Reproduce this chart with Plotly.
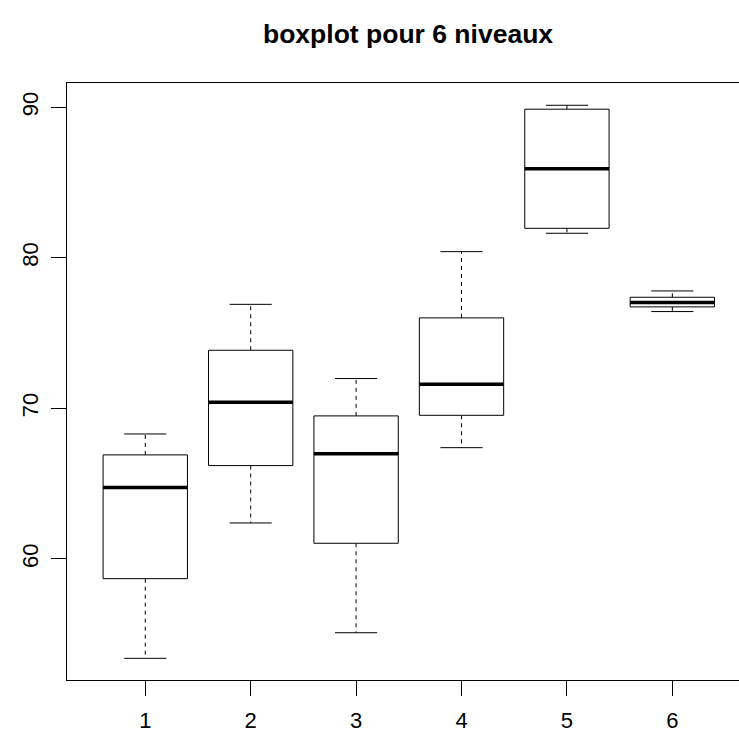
import plotly.graph_objects as go

# Five-number summaries for each level
levels = [1, 2, 3, 4, 5, 6]
lower_whisker = [53.40, 62.39, 55.10, 67.39, 81.63, 76.43]
q1 = [58.69, 66.20, 61.04, 69.54, 81.96, 76.74]
median = [64.74, 70.40, 66.99, 71.60, 85.91, 77.03]
q3 = [66.91, 73.86, 69.50, 76.01, 89.87, 77.38]
upper_whisker = [68.30, 76.91, 71.98, 80.41, 90.13, 77.80]

y_ticks = [60, 70, 80, 90]
title_text = "boxplot pour 6 niveaux"

BOX_HALF = 0.4      # boxwex 0.8
STAPLE_HALF = 0.2   # staple half the box width
FONT = "Liberation Sans, Arial, sans-serif"

fig = go.Figure()

for x, lo, a, m, b, hi in zip(levels, lower_whisker, q1, median, q3, upper_whisker):
    # dashed whiskers
    for y0, y1 in ((b, hi), (a, lo)):
        fig.add_trace(go.Scatter(
            x=[x, x], y=[y0, y1], mode="lines",
            line=dict(color="black", width=1, dash="4px,4px"),
            hoverinfo="skip", showlegend=False))
    # staples
    for yy in (hi, lo):
        fig.add_trace(go.Scatter(
            x=[x - STAPLE_HALF, x + STAPLE_HALF], y=[yy, yy], mode="lines",
            line=dict(color="black", width=1),
            hoverinfo="skip", showlegend=False))
    # box
    fig.add_trace(go.Scatter(
        x=[x - BOX_HALF, x + BOX_HALF, x + BOX_HALF, x - BOX_HALF, x - BOX_HALF],
        y=[a, a, b, b, a], mode="lines", fill="toself", fillcolor="white",
        line=dict(color="black", width=1),
        hoverinfo="skip", showlegend=False))
    # median
    fig.add_trace(go.Scatter(
        x=[x - BOX_HALF, x + BOX_HALF], y=[m, m], mode="lines",
        line=dict(color="black", width=3.5),
        hoverinfo="skip", showlegend=False))

W, H = 739, 734
ml, mt, mb = 66.7, 82.7, 54
px_per_unit = 105.46
x_left = 0.2575
x_right = x_left + (W - ml) / px_per_unit

fig.update_layout(
    width=W, height=H,
    margin=dict(l=ml, r=0, t=mt, b=mb),
    plot_bgcolor="white", paper_bgcolor="white",
    font=dict(family=FONT, size=22, color="black"),
    xaxis=dict(
        range=[x_left, x_right], tickvals=levels,
        ticktext=[str(v) for v in levels],
        showgrid=False, zeroline=False,
        showline=True, mirror=True, linecolor="black", linewidth=1,
        ticks="outside", ticklen=15, tickwidth=1, tickcolor="black",
        ticklabelstandoff=6,
    ),
    yaxis=dict(
        range=[51.96, 91.61], tickvals=y_ticks,
        showgrid=False, zeroline=False,
        showline=True, linecolor="black", linewidth=1,
        ticks="outside", ticklen=15, tickwidth=1, tickcolor="black",
        tickangle=-90, ticklabelstandoff=4,
    ),
    annotations=[dict(
        text="<b>" + title_text + "</b>", xref="paper", yref="paper",
        x=(408.0 - ml) / (W - ml), y=1 + (mt - 34) / (H - mt - mb),
        xanchor="center", yanchor="middle", showarrow=False,
        font=dict(family=FONT, size=26.5, color="black"),
    )],
)

fig.write_html("out.html")
